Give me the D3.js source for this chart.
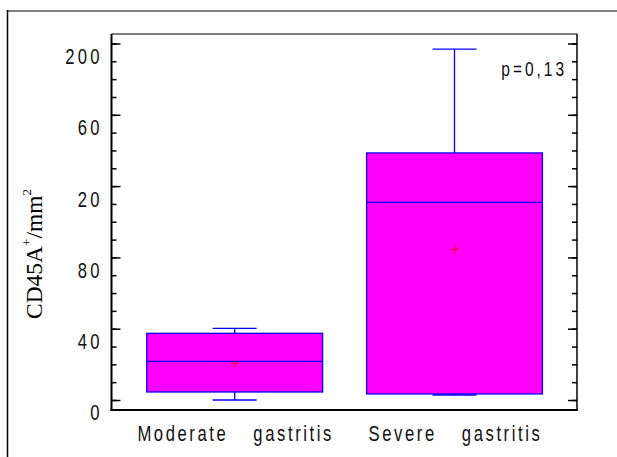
<!DOCTYPE html>
<html>
<head>
<meta charset="utf-8">
<script src="https://cdn.jsdelivr.net/npm/d3@7"></script>
<style>
  html, body { margin: 0; padding: 0; background: #fff; }
  svg { display: block; }
</style>
</head>
<body>
<svg id="chart" width="617" height="457"></svg>
<script>
// ---- data ----
const categories = ["Moderate gastritis", "Severe gastritis"];
const whiskerLow  = [0, 2.8];
const q1          = [4.5, 3.4];
const median      = [21.7, 110.9];
const q3          = [37.4, 138.6];
const whiskerHigh = [40.2, 196.9];
const means       = [20.6, 84.5];
const yMajorTicks = [0, 40, 80, 120, 160, 200];
const yTickLabels = ["0", "40", "80", "20", "60", "200"];
const yMinorTicks = d3.range(0, 201, 10);
const pValueText = "p=0,13";
const yTitle = "CD45A";

// ---- layout ----
const svg = d3.select("#chart");
const frame = { left: 111.5, right: 577, top: 34, bottom: 410 };

const y = d3.scaleLinear().domain([0, 200]).range([400, 43.5]);
const x = d3.scaleBand().domain(categories).range([124.8, 564.4]).padding(0);

const sansFont = "'Liberation Sans', Arial, sans-serif";
const serifFont = "'Liberation Serif', 'Times New Roman', serif";
const squeeze = 0.74;

// outer page frame
svg.append("line").attr("x1", 7).attr("x2", 617).attr("y1", 11).attr("y2", 11)
  .attr("stroke", "#808080").attr("stroke-width", 2);
svg.append("line").attr("x1", 7.5).attr("x2", 7.5).attr("y1", 10).attr("y2", 457)
  .attr("stroke", "#000").attr("stroke-width", 1.5);

// boxes
const g = svg.append("g");
const bw = x.bandwidth() * 0.8;
const cw = x.bandwidth() * 0.2;
categories.forEach((c, i) => {
  const cx = x(c) + x.bandwidth() / 2;
  g.append("line").attr("x1", cx).attr("x2", cx).attr("y1", y(q3[i])).attr("y2", y(whiskerHigh[i]))
    .attr("stroke", "#0000ff").attr("stroke-width", 1.3);
  g.append("line").attr("x1", cx).attr("x2", cx).attr("y1", y(q1[i])).attr("y2", y(whiskerLow[i]))
    .attr("stroke", "#0000ff").attr("stroke-width", 1.3);
  g.append("line").attr("x1", cx - cw / 2).attr("x2", cx + cw / 2)
    .attr("y1", y(whiskerHigh[i])).attr("y2", y(whiskerHigh[i]))
    .attr("stroke", "#0000ff").attr("stroke-width", 1.3);
  g.append("line").attr("x1", cx - cw / 2).attr("x2", cx + cw / 2)
    .attr("y1", y(whiskerLow[i])).attr("y2", y(whiskerLow[i]))
    .attr("stroke", "#0000ff").attr("stroke-width", 1.3);
  g.append("rect").attr("x", cx - bw / 2).attr("y", y(q3[i]))
    .attr("width", bw).attr("height", y(q1[i]) - y(q3[i]))
    .attr("fill", "#ff00ff").attr("stroke", "#0000ff").attr("stroke-width", 1.3);
  g.append("line").attr("x1", cx - bw / 2).attr("x2", cx + bw / 2)
    .attr("y1", y(median[i])).attr("y2", y(median[i]))
    .attr("stroke", "#0000ff").attr("stroke-width", 1.3);
  const my = y(means[i]);
  g.append("path").attr("d", `M${cx - 3.5},${my}H${cx + 3.5}M${cx},${my - 4}V${my + 4}`)
    .attr("stroke", "#ff0000").attr("stroke-width", 1).attr("fill", "none");
});

// left axis (ticks inside)
const leftMinor = svg.append("g").attr("transform", `translate(${frame.left},0)`)
  .call(d3.axisLeft(y).tickValues(yMinorTicks).tickSize(-5).tickFormat(""));
leftMinor.select(".domain").remove();
const leftMajor = svg.append("g").attr("transform", `translate(${frame.left},0)`)
  .call(d3.axisLeft(y).tickValues(yMajorTicks).tickSize(-9).tickPadding(12)
    .tickFormat((d, i) => yTickLabels[i]));
leftMajor.select(".domain").remove();

// right axis (ticks inside)
const rightMinor = svg.append("g").attr("transform", `translate(${frame.right},0)`)
  .call(d3.axisRight(y).tickValues(yMinorTicks).tickSize(-5).tickFormat(""));
rightMinor.select(".domain").remove();
const rightMajor = svg.append("g").attr("transform", `translate(${frame.right},0)`)
  .call(d3.axisRight(y).tickValues(yMajorTicks).tickSize(-9).tickFormat(""));
rightMajor.select(".domain").remove();

svg.selectAll(".tick line").attr("stroke", "#000").attr("stroke-width", 1.5);

leftMajor.selectAll("text")
  .attr("font-family", sansFont).attr("font-size", 22.5).attr("fill", "#111")
  .attr("letter-spacing", 4.4)
  .each(function () {
    const t = d3.select(this);
    const tx = +t.attr("x");
    t.attr("x", 0).attr("dy", null).attr("y", 0)
     .attr("dominant-baseline", "central")
     .attr("transform", `translate(${tx + 3.3},12) scale(${squeeze},1)`);
  });

// plot frame
svg.append("line").attr("x1", frame.left).attr("x2", frame.right).attr("y1", frame.top).attr("y2", frame.top)
  .attr("stroke", "#000").attr("stroke-width", 1);
svg.append("line").attr("x1", frame.right).attr("x2", frame.right).attr("y1", frame.top).attr("y2", frame.bottom)
  .attr("stroke", "#000").attr("stroke-width", 1.5);
svg.append("line").attr("x1", frame.left).attr("x2", frame.left).attr("y1", frame.top).attr("y2", frame.bottom + 1)
  .attr("stroke", "#000").attr("stroke-width", 2);
svg.append("line").attr("x1", frame.left - 1).attr("x2", frame.right + 0.75).attr("y1", frame.bottom).attr("y2", frame.bottom)
  .attr("stroke", "#000").attr("stroke-width", 2.2);

// bottom axis labels
const bottom = svg.append("g").attr("transform", `translate(0,${frame.bottom})`)
  .call(d3.axisBottom(x).tickSize(0).tickPadding(0));
bottom.select(".domain").remove();
bottom.selectAll("text")
  .attr("font-family", sansFont).attr("font-size", 22.5).attr("fill", "#111")
  .attr("letter-spacing", 3.5).attr("word-spacing", 24)
  .attr("text-anchor", "middle")
  .each(function () {
    d3.select(this).attr("y", 0).attr("dy", null).attr("dominant-baseline", "central")
      .attr("transform", `translate(1,23) scale(${squeeze},1)`);
  });

// p-value
svg.append("text")
  .attr("font-family", sansFont).attr("font-size", 21).attr("fill", "#111")
  .attr("letter-spacing", 4).attr("text-anchor", "end").attr("dominant-baseline", "central")
  .attr("transform", `translate(567,69) scale(${squeeze},1)`)
  .text(pValueText);

// y-axis title
const title = svg.append("text")
  .attr("font-family", serifFont).attr("font-size", 23.5).attr("fill", "#000")
  .attr("text-anchor", "middle").attr("dominant-baseline", "central")
  .attr("transform", "translate(34,254) rotate(-90)");
title.append("tspan").text(yTitle);
title.append("tspan").attr("font-size", 13).attr("baseline-shift", "super").text("+");
title.append("tspan").text("/mm");
title.append("tspan").attr("font-size", 13).attr("baseline-shift", "super").text("2");
</script>
</body>
</html>
